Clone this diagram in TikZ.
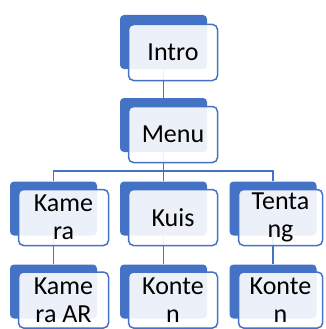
\documentclass[tikz,border=0pt]{standalone}
\usepackage{fontspec}
\setmainfont{Carlito}
\definecolor{sablue}{HTML}{4472C4}
\begin{document}
\begin{tikzpicture}[x=1pt,y=1pt,
  backbox/.style={fill=sablue,draw=none,rounded corners=4pt,inner sep=0pt,
    minimum width=87pt,minimum height=54pt},
  frontbox/.style={fill=white,fill opacity=0.9,text opacity=1,draw=sablue,
    line width=1.5pt,rounded corners=5pt,inner sep=0pt,
    minimum height=56pt,align=center,
    font=\fontsize{26}{28}\selectfont},
  link/.style={draw=sablue,line width=1.3pt}]
\useasboundingbox (0,0) rectangle (325,-329);
% back rectangles
\node[backbox] (introb) at (163.5,-42) {};
\node[backbox] (menub) at (163.5,-125) {};
\node[backbox] (kamerab) at (53.5,-208.5) {};
\node[backbox] (kuisb) at (163.5,-208.5) {};
\node[backbox] (tentangb) at (273,-208.5) {};
\node[backbox] (kameraarb) at (53.5,-291.5) {};
\node[backbox] (kontenab) at (163.5,-291.5) {};
\node[backbox] (kontenbb) at (273,-291.5) {};
% connectors
\coordinate (bus) at (163.5,-171);
\draw[link] (introb.south) -- (menub.north);
\draw[link] (menub.south) -- (bus);
\draw[link] (bus) -| (kamerab.north);
\draw[link] (bus) -- (kuisb.north);
\draw[link] (bus) -| (tentangb.north);
\draw[link] (kamerab.south) -- (kameraarb.north);
\draw[link] (kuisb.south) -- (kontenab.north);
\draw[link] (tentangb.south) -- (kontenbb.north);
% front boxes with text
\node[frontbox,minimum width=89pt] (intro) at (173,-52.5) {Intro};
\node[frontbox,minimum width=89pt] (menu) at (173,-134.5) {Menu};
\node[frontbox,minimum width=90pt] (kamera) at (63.5,-217.5) {Kame\\ra};
\node[frontbox,minimum width=89pt] (kuis) at (173,-217.5) {Kuis};
\node[frontbox,minimum width=84pt] (tentang) at (280.5,-217.5) {Tenta\\ng};
\node[frontbox,minimum width=90pt] (kameraar) at (63.5,-300) {Kame\\ra AR};
\node[frontbox,minimum width=89pt] (kontena) at (173,-300) {Konte\\n};
\node[frontbox,minimum width=84pt] (kontenb) at (280.5,-300) {Konte\\n};
\end{tikzpicture}
\end{document}
